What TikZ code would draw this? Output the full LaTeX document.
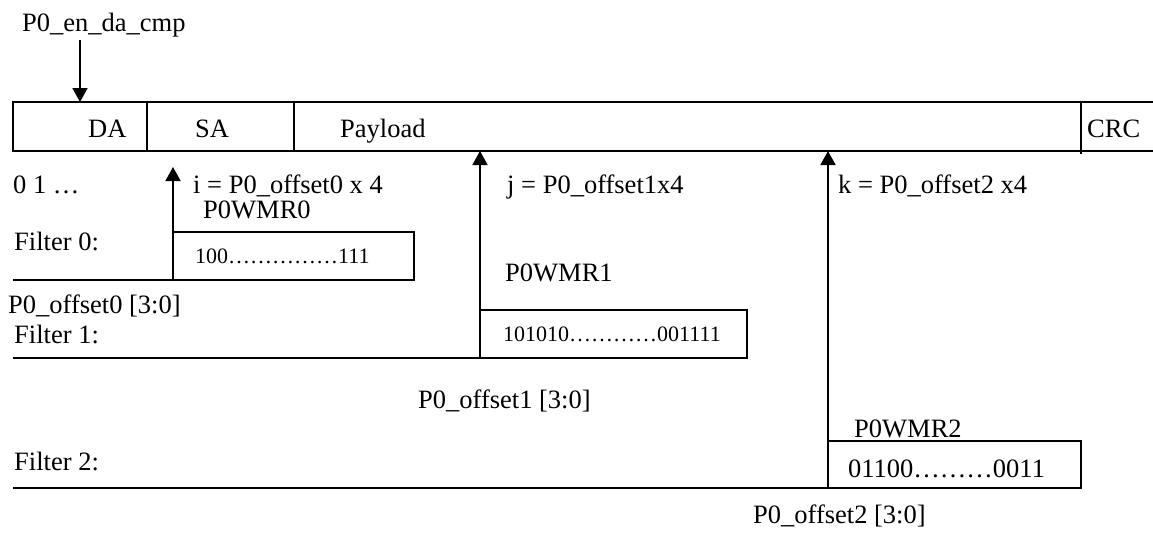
\documentclass[tikz,border=0pt]{standalone}
\usepackage{fontspec}
\setmainfont{Liberation Serif}
\usetikzlibrary{arrows.meta}
\tikzset{
  txt/.style={anchor=base west, inner sep=0pt, font=\fontsize{26.5}{30}\selectfont},
  small/.style={anchor=base west, inner sep=0pt, font=\fontsize{22}{26}\selectfont},
  regbox/.style={draw, anchor=north west, inner sep=0pt, outer sep=0pt, line width=1.6pt},
  ln/.style={line width=1.6pt},
  arr/.style={line width=1.6pt, -{Triangle[length=14pt,width=15pt]}},
}
\begin{document}
\begin{tikzpicture}[x=1pt, y=-1pt]
\useasboundingbox (0,0) rectangle (1153,536);

% frame of the packet
\coordinate (ftl) at (13,102);
\coordinate (ftr) at (1153,102);
\coordinate (fbl) at (13,151);
\coordinate (fbr) at (1153,151);
\draw[ln] (ftr) -- (ftl) -- (fbl) -- (fbr);
\coordinate (d1t) at (147,102);  \coordinate (d1b) at (147,151);
\coordinate (d2t) at (294,102);  \coordinate (d2b) at (294,151);
\coordinate (d3t) at (1081,102); \coordinate (d3b) at (1081,154);
\draw[ln] (d1t) -- (d1b);
\draw[ln] (d2t) -- (d2b);
\draw[ln] (d3t) -- (d3b);

\node[txt] (da) at (88,137) {DA};
\node[txt] (sa) at (195,137) {SA};
\node[txt] (pl) at (340,137) {Payload};
\node[txt] (crc) at (1087,137) {CRC};

% compare enable
\node[txt] (en) at (22,31) {P0\_en\_da\_cmp};
\coordinate (enTop) at (80,40);
\coordinate (enTip) at (80,102);
\draw[arr] (enTop) -- (enTip);

\node[txt] (bits) at (13,193) {0 1 …};
\node[txt] (ilab) at (193,193) {i = P0\_offset0 x 4};
\node[txt] (jlab) at (507,193) {j = P0\_offset1x4};
\node[txt] (klab) at (838,193) {k = P0\_offset2 x4};

% filter 0
\node[regbox, minimum width=241pt, minimum height=48pt] (wmr0) at (173,232) {};
\node[txt] (wmr0lab) at (203,218) {P0WMR0};
\node[small] (wmr0val) at (195,263) {100……………111};
\node[txt] (f0) at (14,250) {Filter 0:};
\coordinate (f0s) at (13,280);
\draw[ln] (f0s) -- (wmr0.south west);
\coordinate (iTip) at (173,167);
\draw[arr] (wmr0.south west) -- (iTip);
\node[txt] (off0) at (8,313) {P0\_offset0 [3:0]};

% filter 1
\node[regbox, minimum width=267pt, minimum height=48pt] (wmr1) at (480,310) {};
\node[txt] (wmr1lab) at (505,281) {P0WMR1};
\node[small] (wmr1val) at (503,341) {101010…………001111};
\node[txt] (f1) at (14,343) {Filter 1:};
\coordinate (f1s) at (13,358);
\draw[ln] (f1s) -- (wmr1.south west);
\coordinate (jTip) at (480,151);
\draw[arr] (wmr1.south west) -- (jTip);
\node[txt] (off1) at (418,408) {P0\_offset1 [3:0]};

% filter 2
\node[regbox, minimum width=253pt, minimum height=47pt] (wmr2) at (828,441) {};
\node[txt] (wmr2lab) at (854,437) {P0WMR2};
\node[txt] (wmr2val) at (848,477) {01100………0011};
\node[txt] (f2) at (14,470) {Filter 2:};
\coordinate (f2s) at (13,488);
\draw[ln] (f2s) -- (wmr2.south west);
\coordinate (kTip) at (828,151);
\draw[arr] (wmr2.south west) -- (kTip);
\node[txt] (off2) at (753,523) {P0\_offset2 [3:0]};
\end{tikzpicture}
\end{document}
